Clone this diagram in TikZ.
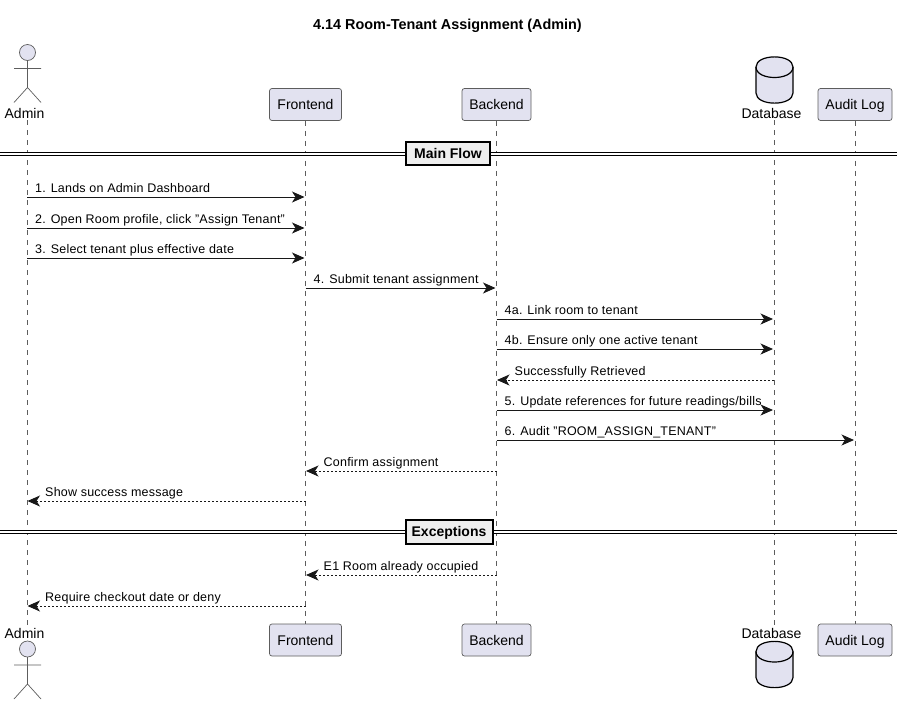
\documentclass[tikz,border=0pt]{standalone}
\usepackage{fontspec}
\setmainfont{Liberation Sans}
\usetikzlibrary{arrows.meta}
\definecolor{partfill}{HTML}{E2E2F0}
\definecolor{partline}{HTML}{181818}
\definecolor{divfill}{HTML}{EEEEEE}
\tikzset{
  headbox/.style={draw=partline!70,line width=0.7pt,fill=partfill,rounded corners=2.5pt,minimum height=32pt,inner sep=0pt,text height=10pt,text depth=0pt,font=\fontsize{14}{16}\selectfont,text=black},
  namelabel/.style={font=\fontsize{14}{16}\selectfont,inner sep=0pt},
  lifeline/.style={draw=partline!70,line width=0.6pt,dash pattern=on 5pt off 5pt},
  msg/.style={draw=partline,line width=1pt,-{Stealth[length=12.5pt,width=11pt,inset=3.5pt]},shorten >=1pt},
  retmsg/.style={msg,dash pattern=on 2pt off 2pt,shorten >=0.5pt},
  msglabel/.style={anchor=base west,inner sep=0pt,font=\fontsize{12.5}{15}\selectfont\addfontfeature{LetterSpace=1.8}},
  divline/.style={draw=black,line width=1pt,double=white,double distance=1.8pt},
  divbox/.style={draw=black,line width=2pt,fill=divfill,inner sep=0pt,text height=10pt,text depth=0pt,font=\fontsize{14}{15}\selectfont\bfseries},
  actorfig/.pic={
    \draw[draw=partline!70,line width=0.7pt,fill=partfill] (0,0) circle[radius=8pt];
    \draw[draw=partline!70,line width=0.7pt] (0,8) -- (0,35) (-13.5,16) -- (13.5,16) (-13.5,50) -- (0,35) -- (13.5,50);
  },
  dbfig/.pic={
    \draw[draw=black,line width=1.2pt,fill=partfill] (-18.5,10) .. controls (-18.5,-3.5) and (18.5,-3.5) .. (18.5,10) -- (18.5,36) .. controls (18.5,49.5) and (-18.5,49.5) .. (-18.5,36) -- cycle;
    \draw[draw=black,line width=1.2pt] (-18.5,10) .. controls (-18.5,24) and (18.5,24) .. (18.5,10);
  }
}
\begin{document}
\begin{tikzpicture}[x=1pt,y=-1pt]
\useasboundingbox (0,0) rectangle (903,705);

\node[font=\fontsize{14.4}{16}\selectfont\bfseries,inner sep=0pt] (title) at (447.5,26) {4.14 Room-Tenant Assignment (Admin)};

% participants at top and bottom
\foreach \name/\x/\w/\txt in {frontend/305.5/72/Frontend,backend/496.5/69/Backend,audit/855/74/Audit Log} {
  \node[headbox,minimum width=\w pt] (\name top) at (\x,104.5) {\txt};
  \node[headbox,minimum width=\w pt] (\name bot) at (\x,640) {\txt};
}
\node[namelabel] (admintop) at (24.5,113) {Admin};
\node[namelabel] (adminbot) at (24.5,633) {Admin};
\node[namelabel] (databasetop) at (771.5,113) {Database};
\node[namelabel] (databasebot) at (771.5,633) {Database};
\coordinate (adminline) at (27,120);
\coordinate (adminend) at (27,625);
\coordinate (databaseline) at (774,120);
\coordinate (databaseend) at (774,625);

\pic at (27.5,52.5) {actorfig};
\pic at (27.5,649) {actorfig};
\pic at (774.5,57) {dbfig};
\pic at (774.5,641.5) {dbfig};

% lifelines
\foreach \name in {frontend,backend,audit}
\draw[lifeline] (\name top) -- (\name bot);
\draw[lifeline] (adminline) -- (adminend);
\draw[lifeline] (databaseline) -- (databaseend);

% dividers
\foreach \name/\y in {mainflow/154,exceptions/532} {
  \coordinate (\name left) at (0,\y);
  \coordinate (\name right) at (897,\y);
  \draw[divline] (\name left) -- (\name right);
}
\node[divbox,minimum width=84pt,minimum height=23pt] (mainflow) at (448,153.5) {Main Flow};
\node[divbox,minimum width=87pt,minimum height=24pt] (exceptions) at (449,531.5) {Exceptions};

% forward messages
\foreach \from/\to/\y/\txt in {
  adminline/frontendtop/197/{1. Lands on Admin Dashboard},
  adminline/frontendtop/228/{2. Open Room profile, click "Assign Tenant"},
  adminline/frontendtop/258/{3. Select tenant plus effective date},
  frontendtop/backendtop/288/{4. Submit tenant assignment},
  backendtop/databaseline/319/{4a. Link room to tenant},
  backendtop/databaseline/349/{4b. Ensure only one active tenant},
  backendtop/databaseline/410/{5. Update references for future readings/bills},
  backendtop/audittop/440/{6. Audit "ROOM\_ASSIGN\_TENANT"}} {
  \draw[msg] (\from |- 0,\y) -- (\to |- 0,\y);
  \node[msglabel,xshift=8pt,yshift=4.5pt] at (\from |- 0,\y) {\txt};
}

% return messages
\foreach \from/\to/\y/\txt in {
  databaseline/backendtop/380/{Successfully Retrieved},
  backendtop/frontendtop/471/{Confirm assignment},
  frontendtop/adminline/501/{Show success message},
  backendtop/frontendtop/575/{E1 Room already occupied},
  frontendtop/adminline/606/{Require checkout date or deny}} {
  \draw[retmsg] (\from |- 0,\y) -- (\to |- 0,\y);
  \node[msglabel,xshift=18pt,yshift=4.5pt] at (\to |- 0,\y) {\txt};
}

\end{tikzpicture}
\end{document}
